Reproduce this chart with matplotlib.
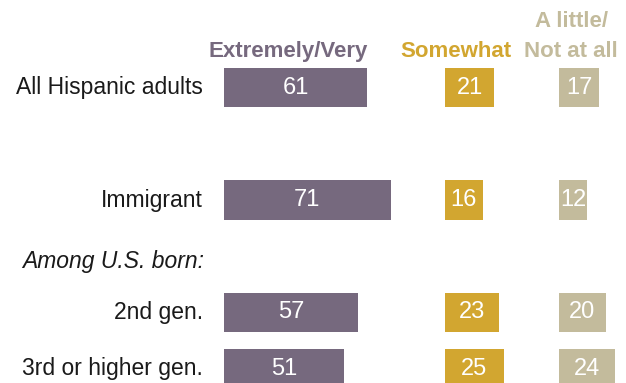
import matplotlib
matplotlib.use("Agg")
import matplotlib.pyplot as plt

plt.rcParams["font.family"] = ["Liberation Sans", "DejaVu Sans"]

# Data
groups = ["All Hispanic adults", "Immigrant", "2nd gen.", "3rd or higher gen."]
row_pos = [0, 2, 4, 5]
extremely_very = [61, 71, 57, 51]
somewhat = [21, 16, 23, 25]
little_not = [17, 12, 20, 24]
headers = ["Extremely/Very", "Somewhat", "A little/", "Not at all"]
subhead = "Among U.S. born:"

PURPLE = "#76697e"
GOLD = "#d2a630"
TAN = "#c3bb9c"

W, H, DPI = 626, 383, 100
fig = plt.figure(figsize=(W / DPI, H / DPI), dpi=DPI)
fig.patch.set_facecolor("white")

ppu = 2.35          # pixels per percentage point
row_px = 56.25      # pixels per row step
first_row_px = 87.5 # centre of first row from top
ylim = ((H - first_row_px) / row_px, -first_row_px / row_px)

def make_axes(left_px, xmax):
    ax = fig.add_axes([left_px / W, 0, xmax * ppu / W, 1])
    ax.set_xlim(0, xmax)
    ax.set_ylim(*ylim)
    ax.axis("off")
    return ax

ax1 = make_axes(224, 100)
ax2 = make_axes(445, 40)
ax3 = make_axes(559, 28)

FS = 16.5
bar_h = 0.71
for ax, vals, col in [(ax1, extremely_very, PURPLE), (ax2, somewhat, GOLD), (ax3, little_not, TAN)]:
    bars = ax.barh(row_pos, vals, height=bar_h, color=col, clip_on=False)
    for b, v in zip(bars, vals):
        ax.text(b.get_x() + b.get_width() / 2, b.get_y() + b.get_height() / 2, f"{v}",
                ha="center", va="center", color="white", fontsize=FS + 0.5, clip_on=False)

# Row labels
for y, g in zip(row_pos, groups):
    ax1.text(-9.0, y, g, ha="right", va="center", fontsize=FS, color="#1a1a1a")
ax1.text(-86.0, 3.1, subhead, ha="left", va="center", fontsize=FS, style="italic", color="#1a1a1a")

# Column headers
ax1.text(27.4, -0.54, headers[0], ha="center", va="baseline", fontsize=16,
         fontweight="bold", color=PURPLE)
ax2.text(4.5, -0.54, headers[1], ha="center", va="baseline", fontsize=16,
         fontweight="bold", color=GOLD)
ax3.text(5.2, -1.08, headers[2], ha="center", va="baseline", fontsize=16,
         fontweight="bold", color=TAN)
ax3.text(5.2, -0.54, headers[3], ha="center", va="baseline", fontsize=16,
         fontweight="bold", color=TAN)

fig.savefig("out.png", dpi=DPI, facecolor="white")
